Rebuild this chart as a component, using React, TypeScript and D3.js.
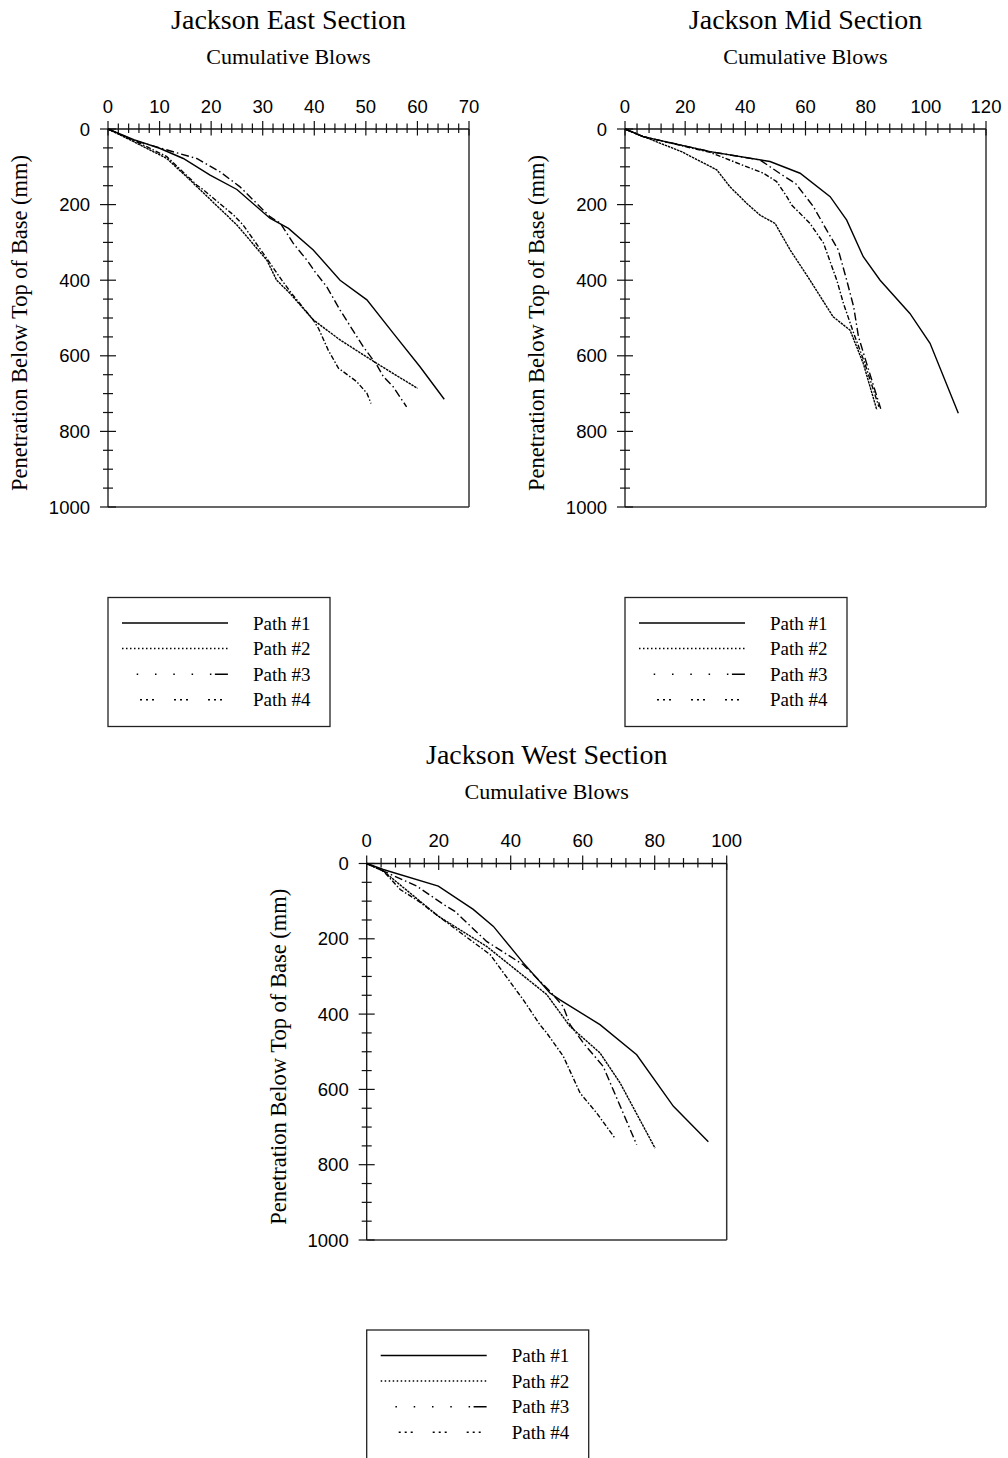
import React from "react";
import * as d3 from "d3";

type Pt = [number, number];

// [cumulative blows, penetration mm]
const pathNames = ["Path #1", "Path #2", "Path #3", "Path #4"];
const yTicks = [0, 200, 400, 600, 800, 1000];

const eastXTicks = [0, 10, 20, 30, 40, 50, 60, 70];
const midXTicks = [0, 20, 40, 60, 80, 100, 120];
const westXTicks = [0, 20, 40, 60, 80, 100];

const eastPath1: Pt[] = [[0, 0], [5, 28], [10, 51], [14.6, 78], [19.8, 122], [25, 160], [31.4, 236], [35, 263], [39.8, 320], [45, 400], [50.2, 452], [55.3, 540], [60.5, 629], [65.2, 715]];
const eastPath2: Pt[] = [[0, 0], [4.9, 33], [11.4, 78], [15.9, 135], [25, 254], [27.5, 294], [30.8, 347], [32.7, 400], [35.3, 435], [39.8, 505], [45, 558], [52.1, 620], [60, 686]];
const eastPath3: Pt[] = [[0, 0], [5, 30], [13.6, 64], [17.2, 78], [21.7, 113], [25.6, 153], [31.4, 232], [33.4, 249], [35.9, 302], [38.8, 351], [40.1, 377], [42.4, 417], [45, 479], [49.5, 576], [52.1, 624], [53.4, 655], [55.3, 682], [57.9, 735]];
const eastPath4: Pt[] = [[0, 0], [6.2, 38], [11.4, 73], [17.2, 148], [18.5, 161], [24.3, 227], [26.2, 254], [30.1, 329], [33.7, 400], [35.6, 435], [39.8, 505], [40.8, 527], [42.7, 585], [44.7, 633], [48.2, 668], [50.2, 699], [51, 726]];

const midPath1: Pt[] = [[0, 0], [6, 20], [28.3, 60], [48.2, 86], [58.2, 117], [68.2, 179], [73.7, 241], [79.2, 338], [84.8, 400], [94.7, 488], [101.4, 567], [110.8, 752]];
const midPath2: Pt[] = [[0, 0], [6.1, 20], [18.8, 60], [30.5, 108], [34.9, 153], [40.5, 197], [44.9, 228], [49.9, 250], [54.9, 320], [61.5, 400], [69.2, 497], [74.8, 532], [79.2, 620], [83.7, 743]];
const midPath3: Pt[] = [[0, 0], [6, 20], [28.3, 60], [44.9, 82], [52.3, 122], [56.7, 144], [62.6, 205], [67, 267], [70.9, 320], [73.7, 400], [76, 470], [77.6, 549], [80.5, 625], [85, 740]];
const midPath4: Pt[] = [[0, 0], [6, 20], [28.3, 62], [46, 117], [50.4, 139], [53.8, 179], [55.4, 201], [61.5, 250], [66, 302], [70.4, 400], [72.6, 461], [76, 540], [79.5, 615], [84.4, 735]];

const westPath1: Pt[] = [[0, 0], [4.6, 16], [19.9, 60], [29.6, 122], [35.2, 167], [43.5, 264], [50.9, 344], [53.7, 362], [64.8, 428], [75, 508], [85.2, 645], [94.9, 739]];
const westPath2: Pt[] = [[0, 0], [4.6, 20], [19.9, 140], [33.3, 220], [50, 348], [56.5, 433], [64.8, 503], [70.4, 583], [80.1, 756]];
const westPath3: Pt[] = [[0, 0], [4.6, 20], [13.9, 60], [22.2, 114], [24.5, 127], [33.3, 207], [43.5, 269], [50.9, 339], [54.6, 380], [56.5, 428], [60.2, 477], [65.7, 539], [75, 747]];
const westPath4: Pt[] = [[0, 0], [4.6, 20], [9.3, 69], [14.4, 100], [19.9, 140], [34.3, 242], [42.1, 344], [43.5, 362], [48.1, 428], [50, 450], [54.6, 512], [59.3, 610], [63.9, 663], [69, 730]];

const plotDash = [undefined, "2.5,0.8", "8,3,1.5,3", "5,2,1.5,2"];
const legendDash = [
  undefined,
  "1.5,2.5",
  "0,14.7,1.5,16.8,1.5,16.8,1.5,16.8,1.5,16.8,1.5,3.5,13,30",
  "2,4,2,4,2,20",
];
const legendOffset = [0, 0, 0, 16];

const serif = "'Liberation Serif', 'Times New Roman', serif";
const sans = "'Liberation Sans', Arial, sans-serif";

type PanelProps = {
  title: string;
  xTicks: number[];
  minorStep: number;
  left: number;
  right: number;
  top: number;
  bottom: number;
  legendTop: number;
  series: Pt[][];
};

function Panel(p: PanelProps) {
  const xMax = p.xTicks[p.xTicks.length - 1];
  const x = d3.scaleLinear().domain([0, xMax]).range([p.left, p.right]);
  const y = d3.scaleLinear().domain([0, 1000]).range([p.top, p.bottom]);
  const line = d3
    .line<Pt>()
    .x((d) => x(d[0]))
    .y((d) => y(d[1]));
  const xMinor = d3.range(0, xMax + 0.001, p.minorStep);
  const yMinor = d3.range(0, 1000.001, 50);
  const cx = (p.left + p.right) / 2;
  const cy = (p.top + p.bottom) / 2;

  return (
    <g>
      <text x={cx} y={p.top - 100} textAnchor="middle" fontFamily={serif} fontSize={28}>
        {p.title}
      </text>
      <text x={cx} y={p.top - 65} textAnchor="middle" fontFamily={serif} fontSize={22}>
        Cumulative Blows
      </text>
      <text
        transform={`translate(${p.left - 81},${cy + 5}) rotate(-90)`}
        textAnchor="middle"
        fontFamily={serif}
        fontSize={22.5}
      >
        Penetration Below Top of Base (mm)
      </text>

      {/* frame */}
      <line x1={p.right} x2={p.right} y1={p.top} y2={p.bottom} stroke="#333" strokeWidth={1.5} />
      <line x1={p.left} x2={p.right} y1={p.bottom} y2={p.bottom} stroke="#333" strokeWidth={1.5} />
      <line x1={p.left} x2={p.right} y1={p.top} y2={p.top} stroke="#111" strokeWidth={1.3} />
      <line x1={p.left} x2={p.left} y1={p.top} y2={p.bottom} stroke="#111" strokeWidth={1.3} />

      {/* x ticks on top */}
      {xMinor.map((v) => {
        const major = p.xTicks.includes(Math.round(v * 1000) / 1000);
        return (
          <line
            key={"xt" + v}
            x1={x(v)}
            x2={x(v)}
            y1={p.top - (major ? 8 : 5.5)}
            y2={p.top + (major ? 6.5 : 4)}
            stroke="#111"
            strokeWidth={1.2}
          />
        );
      })}
      {p.xTicks.map((v) => (
        <text key={"xl" + v} x={x(v)} y={p.top - 16.5} textAnchor="middle" fontFamily={sans} fontSize={18.5}>
          {v}
        </text>
      ))}

      {/* y ticks on left */}
      {yMinor.map((v) => {
        const major = v % 200 === 0;
        return (
          <line
            key={"yt" + v}
            x1={p.left - (major ? 8 : 5)}
            x2={p.left + (major ? 8 : 5)}
            y1={y(v)}
            y2={y(v)}
            stroke="#111"
            strokeWidth={1.2}
          />
        );
      })}
      {yTicks.map((v) => (
        <text key={"yl" + v} x={p.left - 18} y={y(v) + 6.5} textAnchor="end" fontFamily={sans} fontSize={18.5}>
          {v}
        </text>
      ))}

      {/* data */}
      {p.series.map((s, i) => (
        <path
          key={"s" + i}
          d={line(s) || ""}
          fill="none"
          stroke="#000"
          strokeWidth={1.4}
          strokeDasharray={plotDash[i]}
        />
      ))}

      {/* legend */}
      <rect x={p.left} y={p.legendTop} width={222} height={129} fill="none" stroke="#222" strokeWidth={1.3} />
      {pathNames.map((name, i) => {
        const base = p.legendTop + 32 + i * 25.6;
        return (
          <g key={"lg" + i}>
            <line
              x1={p.left + 14}
              x2={p.left + 120}
              y1={base - 6.5}
              y2={base - 6.5}
              stroke="#000"
              strokeWidth={1.5}
              strokeDasharray={legendDash[i]}
              strokeDashoffset={legendOffset[i]}
            />
            <text x={p.left + 145} y={base} fontFamily={serif} fontSize={19}>
              {name}
            </text>
          </g>
        );
      })}
    </g>
  );
}

export default function App() {
  return (
    <svg
      width={1008}
      height={1458}
      style={{ position: "absolute", left: 0, top: 0, background: "#fff" }}
    >
      <Panel
        title="Jackson East Section"
        xTicks={eastXTicks}
        minorStep={2}
        left={108}
        right={469}
        top={129}
        bottom={507}
        legendTop={597.5}
        series={[eastPath1, eastPath2, eastPath3, eastPath4]}
      />
      <Panel
        title="Jackson Mid Section"
        xTicks={midXTicks}
        minorStep={4}
        left={625}
        right={986}
        top={129}
        bottom={507}
        legendTop={597.5}
        series={[midPath1, midPath2, midPath3, midPath4]}
      />
      <Panel
        title="Jackson West Section"
        xTicks={westXTicks}
        minorStep={4}
        left={366.7}
        right={726.7}
        top={863.5}
        bottom={1240}
        legendTop={1330}
        series={[westPath1, westPath2, westPath3, westPath4]}
      />
    </svg>
  );
}
